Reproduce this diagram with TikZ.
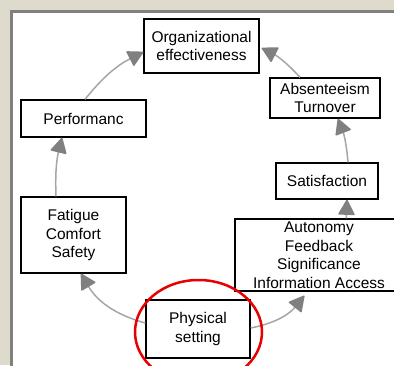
\documentclass[tikz,border=0pt]{standalone}
\usepackage{fontspec}
\setmainfont{Liberation Sans}
\usetikzlibrary{arrows.meta}
\definecolor{panelbg}{RGB}{222,219,204}
\definecolor{framegray}{RGB}{128,128,128}
\definecolor{edgegray}{RGB}{166,166,166}
\definecolor{tipgray}{RGB}{128,128,128}
\definecolor{ringred}{RGB}{232,0,0}

\begin{document}
\begin{tikzpicture}[x=1pt,y=-1pt,
  box/.style={draw=black, line width=1.4pt, fill=white, rectangle, inner sep=0pt,
    align=center, font=\fontsize{15.5}{18.5}\selectfont},
  link/.style={draw=edgegray, line width=1.5pt,
    -{Triangle[length=16pt,width=17pt,color=tipgray,round]}}]
\useasboundingbox (0,0) rectangle (394,365);
\clip (0,0) rectangle (394,365);

% window background and panel frame
\fill[panelbg] (0,0) rectangle (394,365);
\fill[framegray] (10,10) rectangle (400,370);
\fill[white] (13,13) rectangle (400,370);

% boxes
\node[box, minimum width=115pt, minimum height=54pt] (org) at (201.5,46) {Organizational\\effectiveness};
\node[box, minimum width=110pt, minimum height=40pt] (abs) at (325,98) {Absenteeism\\Turnover};
\node[box, minimum width=125pt, minimum height=37pt] (perf) at (83.5,118.5) {Performanc};
\node[box, minimum width=102pt, minimum height=36pt] (sat) at (327,181) {Satisfaction};
\node[box, minimum width=105pt, minimum height=76pt] (fat) at (73.5,235) {Fatigue\\Comfort\\Safety};
\node[box, minimum width=168pt, minimum height=72pt] (auto) at (319,255) {Autonomy\\Feedback\\Significance\\Information Access};
\node[box, minimum width=104pt, minimum height=58pt] (phys) at (198,329) {Physical\\setting};

% connectors
\draw[link] ([yshift=6pt]phys.west) to[bend left=22] ([xshift=7.5pt]fat.south);
\draw[link] ([yshift=1pt]phys.east) to[bend right=20] ([xshift=70pt,yshift=-4pt]auto.south west);
\draw[link] ([xshift=-17.5pt]fat.north) to[bend left=8] ([xshift=-21.5pt]perf.south);
\draw[link] ([xshift=1.5pt]perf.north) to[bend left=12] ([yshift=-6pt]org.west);
\draw[link] ([xshift=-25pt]abs.north) to[bend right=10] ([yshift=-2pt,xshift=2pt]org.east);
\draw[link] ([xshift=21pt]sat.north) to[bend right=8] ([xshift=13pt]abs.south);
\draw[link] ([xshift=112pt]auto.north west) -- ([xshift=20pt]sat.south);

% highlight ring
\draw[ringred, line width=2.5pt] (198.5,332) ellipse [x radius=63.5pt, y radius=52pt];
\end{tikzpicture}
\end{document}
